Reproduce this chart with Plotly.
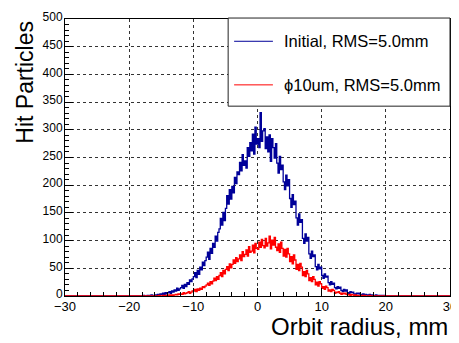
import numpy as np
import plotly.graph_objects as go

# ---------------- data (histogram counts, 0.2 mm bins starting at -18 mm) ----------------
BIN_START = -18.0
BIN_WIDTH = 0.2
X_MIN, X_MAX = -30.0, 30.0

initial_counts = [
    0, 1, 0, 0, 1,          # -18
    1, 0, 2, 1, 0,          # -17
    2, 1, 3, 1, 4,          # -16
    3, 5, 2, 6, 4,          # -15
    6, 8, 5, 9, 7,          # -14
    11, 9, 14, 10, 13,      # -13
    15, 19, 14, 21, 17,     # -12
    24, 21, 29, 26, 31,     # -11
    35, 42, 33, 46, 39,     # -10
    52, 47, 61, 55, 64,     # -9
    70, 79, 66, 86, 77,     # -8
    95, 88, 108, 99, 115,   # -7
    121, 140, 128, 151, 136,  # -6
    158, 181, 166, 192, 175,  # -5
    198, 186, 214, 203, 224,  # -4
    219, 241, 226, 255, 236,  # -3
    244, 231, 268, 252, 277,  # -2
    262, 292, 256, 305, 274,  # -1
    284, 268, 331, 279, 298,  # 0
    302, 266, 287, 260, 291,  # 1
    243, 284, 268, 249, 275,  # 2
    240, 222, 252, 228, 236,  # 3
    206, 192, 218, 199, 210,  # 4
    176, 160, 183, 165, 171,  # 5
    141, 128, 148, 133, 138,  # 6
    104, 95, 112, 99, 106,  # 7
    76, 68, 81, 71, 74,     # 8
    53, 47, 57, 49, 52,     # 9
    37, 32, 40, 34, 36,     # 10
    24, 20, 26, 21, 23,     # 11
    15, 13, 17, 14, 16,     # 12
    10, 8, 12, 9, 11,       # 13
    6, 5, 8, 6, 7,          # 14
    4, 3, 5, 4, 5,          # 15
    3, 2, 4, 2, 3,          # 16
    2, 1, 3, 1, 2,          # 17
    1, 0, 2, 1, 1,          # 18
    0, 1, 0, 1, 0,          # 19
]

phi10_counts = [
    0, 0, 0, 0, 0,          # -18
    0, 0, 0, 0, 0,          # -17
    0, 0, 0, 1, 0,          # -16
    0, 1, 0, 1, 1,          # -15
    1, 2, 1, 2, 1,          # -14
    2, 3, 2, 4, 3,          # -13
    4, 3, 6, 4, 5,          # -12
    6, 8, 5, 7, 9,          # -11
    9, 12, 8, 13, 10,       # -10
    14, 12, 17, 15, 18,     # -9
    20, 23, 19, 26, 22,     # -8
    27, 32, 28, 35, 30,     # -7
    37, 42, 35, 46, 40,     # -6
    48, 53, 46, 58, 51,     # -5
    57, 65, 59, 69, 62,     # -4
    67, 74, 64, 80, 71,     # -3
    75, 83, 72, 89, 79,     # -2
    81, 92, 78, 95, 86,     # -1
    84, 97, 88, 102, 91,    # 0
    87, 104, 90, 96, 108,   # 1
    85, 101, 92, 106, 88,   # 2
    82, 94, 79, 97, 86,     # 3
    72, 84, 70, 86, 76,     # 4
    62, 71, 58, 74, 65,     # 5
    48, 57, 46, 59, 52,     # 6
    37, 44, 35, 46, 40,     # 7
    28, 33, 26, 35, 30,     # 8
    20, 25, 18, 26, 22,     # 9
    14, 17, 12, 18, 15,     # 10
    9, 11, 8, 12, 10,       # 11
    5, 7, 6, 8, 5,          # 12
    3, 5, 4, 5, 3,          # 13
    2, 3, 1, 3, 2,          # 14
    1, 2, 1, 1, 0,          # 15
    0, 1, 0, 1, 0,          # 16
    0, 0, 1, 0, 0,          # 17
    0, 0, 0, 0, 0,          # 18
    0, 0, 0, 0, 0,          # 19
]

series_names = ["Initial, RMS=5.0mm", "\u03d510um, RMS=5.0mm"]
series_colors = ["#000099", "#ff0000"]
x_title = "Orbit radius, mm"
y_title = "Hit Particles"

FONT = "Liberation Sans, Arial, Helvetica, sans-serif"

# page has an 8px body margin: work in page pixels, convert to figure pixels
OFF = 8
FIG_W, FIG_H = 459 - OFF, 343 - OFF


def step_xy(counts):
    counts = np.asarray(counts, dtype=float)
    n_left = int(round((BIN_START - X_MIN) / BIN_WIDTH))
    n_right = int(round((X_MAX - BIN_START) / BIN_WIDTH)) - len(counts)
    full = np.concatenate([np.zeros(n_left), counts, np.zeros(max(n_right, 0))])
    edges = X_MIN + BIN_WIDTH * np.arange(len(full) + 1)
    y = np.append(full, full[-1])
    return edges, y


fig = go.Figure()
for counts, name, color in zip([initial_counts, phi10_counts], series_names, series_colors):
    xs, ys = step_xy(counts)
    fig.add_trace(go.Scatter(
        x=xs, y=ys, mode="lines", name=name,
        line=dict(color=color, width=1.3, shape="hv"),
        showlegend=False, hoverinfo="skip",
    ))

axis_common = dict(
    showline=True, linecolor="black", linewidth=1, mirror=True,
    ticks="inside", ticklen=8, tickcolor="black", tickwidth=1,
    showgrid=True, gridcolor="#333333", gridwidth=1, griddash="dot",
    zeroline=False, ticklabeloverflow="allow",
)

fig.update_xaxes(range=[X_MIN, X_MAX], dtick=10, tick0=0, ticklabelstandoff=-2,
                 tickfont=dict(family=FONT, size=13, color="black"),
                 minor=dict(ticks="inside", dtick=2, ticklen=4, tickcolor="black", showgrid=False),
                 **axis_common)
fig.update_yaxes(range=[0, 500], dtick=50, tick0=0, ticklabelstandoff=-1, ticklabelshift=-2,
                 tickfont=dict(family=FONT, size=12, color="black"),
                 minor=dict(ticks="inside", dtick=10, ticklen=4, tickcolor="black", showgrid=False),
                 **axis_common)

# plot area in page pixels
L, R, T, B = 65, 452, 10, 296
pw, ph = R - L, B - T


def px(xp):
    return (xp - L) / pw


def py(yp):
    return (B - yp) / ph


shapes = [dict(type="rect", xref="paper", yref="paper",
               x0=px(229), x1=px(452), y0=py(100), y1=py(9),
               line=dict(color="#222222", width=1), fillcolor="white", layer="above")]
annotations = []
for i, (name, color) in enumerate(zip(series_names, series_colors)):
    yc = [33, 78][i]
    shapes.append(dict(type="line", xref="paper", yref="paper",
                       x0=px(235), x1=px(274), y0=py(yc), y1=py(yc),
                       line=dict(color=color, width=1), layer="above"))
    annotations.append(dict(text=name, xref="paper", yref="paper",
                            x=px(283), y=py(yc), xanchor="left", yanchor="middle",
                            showarrow=False,
                            font=dict(family=FONT, size=16.5, color="black")))

annotations.append(dict(text=x_title, xref="paper", yref="paper",
                        x=1.0, y=py(328), xanchor="right", yanchor="middle",
                        showarrow=False, font=dict(family=FONT, size=24, color="black")))
annotations.append(dict(text=y_title, xref="paper", yref="paper",
                        x=px(24), y=1.0, xanchor="center", yanchor="top",
                        textangle=-90, showarrow=False,
                        font=dict(family=FONT, size=23, color="black")))

fig.update_layout(
    width=FIG_W, height=FIG_H,
    margin=dict(l=L - OFF, r=FIG_W - (R - OFF), t=T - OFF, b=FIG_H - (B - OFF)),
    paper_bgcolor="white", plot_bgcolor="white",
    shapes=shapes, annotations=annotations,
    showlegend=False,
)

fig.write_html("out.html")
